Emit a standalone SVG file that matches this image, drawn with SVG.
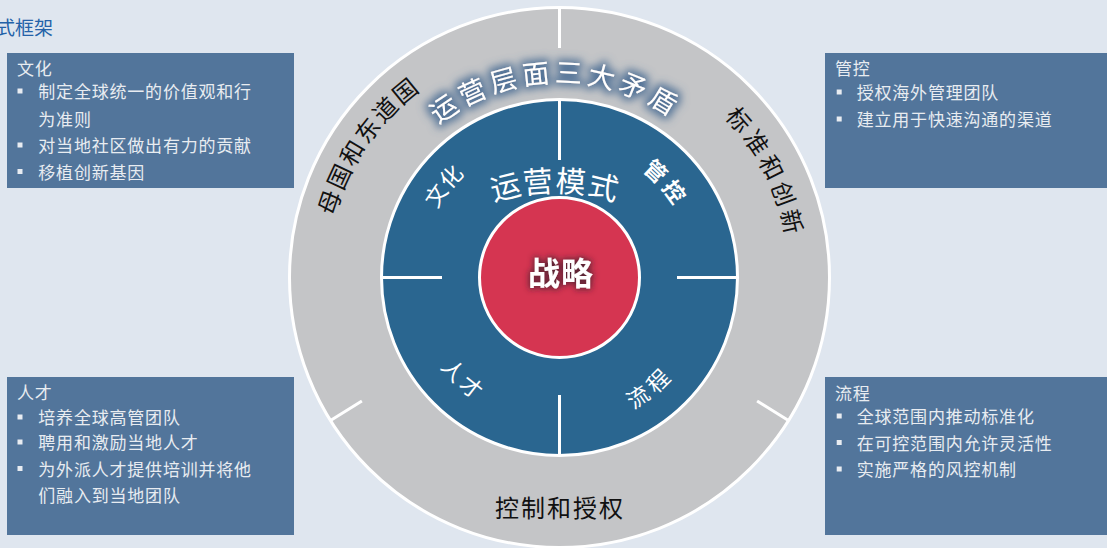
<svg xmlns="http://www.w3.org/2000/svg" width="1107" height="548" viewBox="0 0 1107 548">
<style>
.box{fill:#52759b}
.bt{font-family:"Noto Sans CJK SC","Noto Sans",sans-serif;font-size:17px;fill:#e8ecf1;letter-spacing:0.8px}
.bul{fill:#e8ecf1}
.div{stroke:#ffffff;stroke-width:3;fill:none}
.ring{font-family:"Noto Sans CJK SC",sans-serif;fill:#111111;font-size:24px}
.blue{font-family:"Noto Sans CJK SC",sans-serif;fill:#ffffff;font-size:22px}
</style>
<defs>
<filter id="glowBlue" x="-20%" y="-50%" width="140%" height="200%">
<feMorphology in="SourceAlpha" operator="dilate" radius="3" result="d"/>
<feGaussianBlur in="d" stdDeviation="4.5" result="b"/>
<feFlood flood-color="#4d6f95" flood-opacity="0.95"/>
<feComposite in2="b" operator="in" result="g"/>
<feMerge><feMergeNode in="g"/><feMergeNode in="SourceGraphic"/></feMerge>
</filter>
<filter id="glowDark" x="-30%" y="-50%" width="160%" height="200%">
<feMorphology in="SourceAlpha" operator="dilate" radius="1" result="d"/>
<feGaussianBlur in="d" stdDeviation="3" result="b"/>
<feFlood flood-color="#4a2030" flood-opacity="0.9"/>
<feComposite in2="b" operator="in" result="g"/>
<feMerge><feMergeNode in="g"/><feMergeNode in="SourceGraphic"/></feMerge>
</filter>
<path id="pTop" d="M376.3,210.8 A195,195 0 0,1 739.3,201.9"/>
<path id="pMode" d="M429,237.9 A196,196 0 0,1 681,237.9"/>
<path id="pCult" d="M421,257 A140,140 0 0,1 508,147.3"/>
<path id="pCtrl" d="M602.3,149.5 A135,135 0 0,1 691.8,250.6"/>
<path id="pTal" d="M417,321.1 A149,149 0 0,0 526,422.7"/>
<path id="pProc" d="M584.4,426.4 A151,151 0 0,0 700.9,330.4"/>
<path id="pHome" d="M327.6,299.8 A233,233 0 0,1 497.2,53"/>
<path id="pStd" d="M649.4,65.8 A230,230 0 0,1 783.6,329.2"/>
</defs>
<rect width="1107" height="548" fill="#dfe6ef"/>
<text x="-4" y="35" font-family="Noto Sans CJK SC,sans-serif" font-size="19" fill="#2462a8">式框架</text>

<g id="diagram-circle">
<circle cx="559.5" cy="277.5" r="270" fill="#c4c5c7" stroke="#ffffff" stroke-width="3"/>
<circle cx="559.5" cy="277.5" r="178" fill="#2a6690" stroke="#ffffff" stroke-width="3"/>
<circle cx="559.5" cy="277.5" r="80" fill="#d53551" stroke="#ffffff" stroke-width="3"/>
</g>

<g id="connectors">
<line class="div" x1="559.5" y1="8" x2="559.5" y2="48"/>
<line class="div" x1="330.5" y1="420.6" x2="361.9" y2="401"/>
<line class="div" x1="788.5" y1="420.6" x2="757.1" y2="401"/>
<line class="div" x1="559.5" y1="100" x2="559.5" y2="160"/>
<line class="div" x1="559.5" y1="395" x2="559.5" y2="455"/>
<line class="div" x1="381" y1="277.5" x2="442" y2="277.5"/>
<line class="div" x1="677" y1="277.5" x2="737.5" y2="277.5"/>
</g>

<g id="node-outer-labels">
<text class="ring"><textPath href="#pHome" startOffset="50%" text-anchor="middle" letter-spacing="2.2">母国和东道国</textPath></text>
<text class="ring"><textPath href="#pStd" startOffset="50%" text-anchor="middle" letter-spacing="3.8">标准和创新</textPath></text>
<text class="ring" x="560" y="517" text-anchor="middle" letter-spacing="2">控制和授权</text>
</g>

<g id="node-title">
<text font-family="Noto Sans CJK SC,sans-serif" font-size="27" fill="#ffffff" filter="url(#glowBlue)"><textPath href="#pTop" startOffset="50%" text-anchor="middle" letter-spacing="4.5">运营层面三大矛盾</textPath></text>
</g>

<g id="node-mode">
<text font-family="Noto Sans CJK SC,sans-serif" font-size="30" fill="#ffffff"><textPath href="#pMode" startOffset="50%" text-anchor="middle" letter-spacing="1.2">运营模式</textPath></text>
<text class="blue"><textPath href="#pCult" startOffset="50%" text-anchor="middle" letter-spacing="0.7">文化</textPath></text>
<text class="blue" font-weight="bold"><textPath href="#pCtrl" startOffset="50%" text-anchor="middle" letter-spacing="4">管控</textPath></text>
<text class="blue"><textPath href="#pTal" startOffset="50%" text-anchor="middle" letter-spacing="4">人才</textPath></text>
<text class="blue"><textPath href="#pProc" startOffset="50%" text-anchor="middle" letter-spacing="5">流程</textPath></text>
</g>

<g id="node-strategy">
<text x="561" y="285" text-anchor="middle" font-family="Noto Sans CJK SC,sans-serif" font-size="32" font-weight="bold" fill="#ffffff" letter-spacing="1" filter="url(#glowDark)">战略</text>
</g>

<g id="node-culture">
<rect class="box" x="7" y="53" width="287" height="135"/>
<text class="bt" x="17" y="74.5">文化</text>
<rect class="bul" x="17.5" y="88.5" width="5" height="5"/>
<text class="bt" x="38.3" y="98">制定全球统一的价值观和行</text>
<text class="bt" x="38.3" y="125.5">为准则</text>
<rect class="bul" x="17.5" y="142.5" width="5" height="5"/>
<text class="bt" x="38.3" y="152">对当地社区做出有力的贡献</text>
<rect class="bul" x="17.5" y="169" width="5" height="5"/>
<text class="bt" x="38.3" y="178.5">移植创新基因</text>
</g>

<g id="node-talent">
<rect class="box" x="7" y="377" width="287" height="158"/>
<text class="bt" x="17" y="399">人才</text>
<rect class="bul" x="17.5" y="414.5" width="5" height="5"/>
<text class="bt" x="38.3" y="424">培养全球高管团队</text>
<rect class="bul" x="17.5" y="439.5" width="5" height="5"/>
<text class="bt" x="38.3" y="449">聘用和激励当地人才</text>
<rect class="bul" x="17.5" y="466" width="5" height="5"/>
<text class="bt" x="38.3" y="475.5">为外派人才提供培训并将他</text>
<text class="bt" x="38.3" y="502">们融入到当地团队</text>
</g>

<g id="node-control">
<rect class="box" x="825" y="53" width="290" height="135"/>
<text class="bt" x="835" y="74.5">管控</text>
<rect class="bul" x="836.7" y="89.5" width="5" height="5"/>
<text class="bt" x="856.7" y="99">授权海外管理团队</text>
<rect class="bul" x="836.7" y="116.5" width="5" height="5"/>
<text class="bt" x="856.7" y="126">建立用于快速沟通的渠道</text>
</g>

<g id="node-process">
<rect class="box" x="825" y="377" width="290" height="158"/>
<text class="bt" x="835" y="399.5">流程</text>
<rect class="bul" x="836.7" y="413.5" width="5" height="5"/>
<text class="bt" x="856.7" y="423">全球范围内推动标准化</text>
<rect class="bul" x="836.7" y="440" width="5" height="5"/>
<text class="bt" x="856.7" y="449.5">在可控范围内允许灵活性</text>
<rect class="bul" x="836.7" y="466.5" width="5" height="5"/>
<text class="bt" x="856.7" y="476">实施严格的风控机制</text>
</g>
</svg>
